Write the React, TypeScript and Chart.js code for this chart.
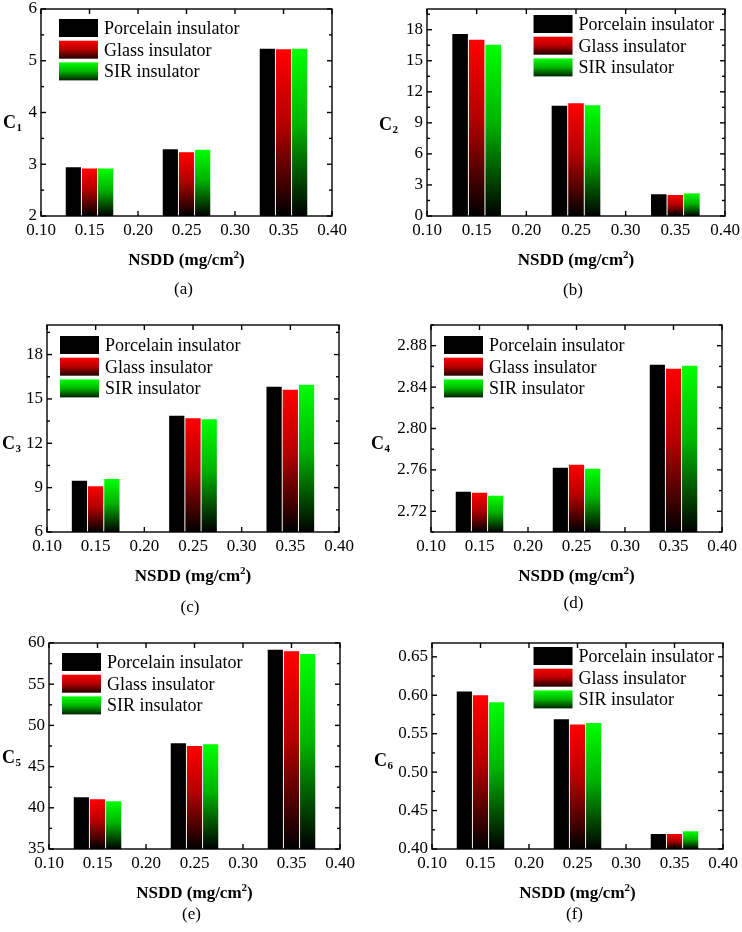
import React, { useEffect, useRef } from "react";
import { Chart, registerables } from "chart.js";

Chart.register(...registerables);

const SERIF = "'Liberation Serif', 'Times New Roman', serif";
Chart.defaults.font.family = SERIF;
Chart.defaults.color = "#000";

// ---------- data ----------
const NSDD = [0.15, 0.25, 0.35];
const X_TICKS = [0.1, 0.15, 0.2, 0.25, 0.3, 0.35, 0.4];
const SERIES_NAMES = ["Porcelain insulator", "Glass insulator", "SIR insulator"];
const SERIES_COLORS = ["#000000", "#ff0000", "#00ff00"];
const SERIES_MID = ["#000000", "#b40000", "#00b400"];

const C1_PORCELAIN = [2.94, 3.29, 5.23];
const C1_GLASS = [2.92, 3.23, 5.22];
const C1_SIR = [2.92, 3.28, 5.23];
const C1_TICKS = [2, 3, 4, 5, 6];

const C2_PORCELAIN = [17.58, 10.65, 2.1];
const C2_GLASS = [17.03, 10.9, 2.03];
const C2_SIR = [16.55, 10.7, 2.19];
const C2_TICKS = [0, 3, 6, 9, 12, 15, 18];

const C3_PORCELAIN = [9.46, 13.86, 15.83];
const C3_GLASS = [9.1, 13.7, 15.62];
const C3_SIR = [9.58, 13.63, 15.96];
const C3_TICKS = [6, 9, 12, 15, 18];

const C4_PORCELAIN = [2.739, 2.762, 2.8616];
const C4_GLASS = [2.738, 2.765, 2.8577];
const C4_SIR = [2.735, 2.761, 2.8606];
const C4_TICKS = [2.72, 2.76, 2.8, 2.84, 2.88];

const C5_PORCELAIN = [41.29, 47.82, 59.19];
const C5_GLASS = [41.05, 47.5, 58.99];
const C5_SIR = [40.8, 47.7, 58.67];
const C5_TICKS = [35, 40, 45, 50, 55, 60];

const C6_PORCELAIN = [0.605, 0.5687, 0.4196];
const C6_GLASS = [0.6, 0.562, 0.4196];
const C6_SIR = [0.591, 0.564, 0.423];
const C6_TICKS = [0.4, 0.45, 0.5, 0.55, 0.6, 0.65];

type Panel = {
  key: string;
  caption: string;
  sub: string;
  porcelain: number[];
  glass: number[];
  sir: number[];
  yMin: number;
  yMax: number;
  yTicks: number[];
  decimals: number;
  left: number;
  top: number;
  width: number;
  height: number;
  area: { l: number; t: number; r: number; b: number };
  legend: { align: "left" | "right"; dx: number; dy: number };
  yTitle: { x: number; dy: number };
  captionDy: number;
};

const PANELS: Panel[] = [
  {
    key: "a", caption: "(a)", sub: "1",
    porcelain: C1_PORCELAIN, glass: C1_GLASS, sir: C1_SIR,
    yMin: 2, yMax: 6, yTicks: C1_TICKS, decimals: 0,
    left: 0, top: 0, width: 371, height: 310,
    area: { l: 41, t: 9, r: 332, b: 216 },
    legend: { align: "left", dx: 18, dy: 10 },
    yTitle: { x: 3, dy: 15 }, captionDy: 78,
  },
  {
    key: "b", caption: "(b)", sub: "2",
    porcelain: C2_PORCELAIN, glass: C2_GLASS, sir: C2_SIR,
    yMin: 0, yMax: 20, yTicks: C2_TICKS, decimals: 0,
    left: 371, top: 0, width: 371, height: 310,
    area: { l: 56, t: 9, r: 354, b: 216 },
    legend: { align: "right", dx: 11, dy: 6 },
    yTitle: { x: 8, dy: 17 }, captionDy: 79,
  },
  {
    key: "c", caption: "(c)", sub: "3",
    porcelain: C3_PORCELAIN, glass: C3_GLASS, sir: C3_SIR,
    yMin: 6, yMax: 20, yTicks: C3_TICKS, decimals: 0,
    left: 0, top: 310, width: 371, height: 310,
    area: { l: 47, t: 15, r: 339, b: 222 },
    legend: { align: "left", dx: 13, dy: 11 },
    yTitle: { x: 2, dy: 20 }, captionDy: 80,
  },
  {
    key: "d", caption: "(d)", sub: "4",
    porcelain: C4_PORCELAIN, glass: C4_GLASS, sir: C4_SIR,
    yMin: 2.7, yMax: 2.9, yTicks: C4_TICKS, decimals: 2,
    left: 371, top: 310, width: 371, height: 310,
    area: { l: 60, t: 15, r: 351, b: 222 },
    legend: { align: "left", dx: 13, dy: 11 },
    yTitle: { x: 0, dy: 20 }, captionDy: 76,
  },
  {
    key: "e", caption: "(e)", sub: "5",
    porcelain: C5_PORCELAIN, glass: C5_GLASS, sir: C5_SIR,
    yMin: 35, yMax: 60, yTicks: C5_TICKS, decimals: 0,
    left: 0, top: 620, width: 371, height: 312,
    area: { l: 49, t: 23, r: 340, b: 229 },
    legend: { align: "left", dx: 13, dy: 10 },
    yTitle: { x: 2, dy: 17 }, captionDy: 70,
  },
  {
    key: "f", caption: "(f)", sub: "6",
    porcelain: C6_PORCELAIN, glass: C6_GLASS, sir: C6_SIR,
    yMin: 0.4, yMax: 0.668, yTicks: C6_TICKS, decimals: 2,
    left: 371, top: 620, width: 371, height: 312,
    area: { l: 61, t: 23, r: 352, b: 229 },
    legend: { align: "right", dx: 9, dy: 4 },
    yTitle: { x: 3, dy: 20 }, captionDy: 70,
  },
];

function makeGradient(c2d: CanvasRenderingContext2D, i: number, top: number, bottom: number) {
  const g = c2d.createLinearGradient(0, top, 0, bottom);
  g.addColorStop(0, SERIES_COLORS[i]);
  g.addColorStop(0.45, SERIES_MID[i]);
  g.addColorStop(1, "#000000");
  return g;
}

function barFill(i: number) {
  return (ctx: any) => {
    const color = SERIES_COLORS[i];
    if (i === 0) return color;
    const chart = ctx.chart;
    const area = chart.chartArea;
    if (!area || ctx.type !== "data" || !ctx.parsed) return color;
    const top = chart.scales.y.getPixelForValue(ctx.parsed.y);
    const bottom = area.bottom;
    if (!isFinite(top) || bottom - top < 1) return color;
    return makeGradient(chart.ctx, i, top, bottom);
  };
}

function decor(p: Panel) {
  return {
    id: "decor_" + p.key,
    afterDraw(chart: any) {
      const { ctx, chartArea: a, scales } = chart;
      const xs = scales.x;
      const ys = scales.y;
      ctx.save();
      ctx.strokeStyle = "#000";
      ctx.lineWidth = 1.4;
      const line = (x1: number, y1: number, x2: number, y2: number) => {
        ctx.beginPath();
        ctx.moveTo(x1, y1);
        ctx.lineTo(x2, y2);
        ctx.stroke();
      };
      // y ticks (major + minor), both sides, inward
      const yv: number[] = ys.ticks.map((t: any) => t.value);
      const step = yv[1] - yv[0];
      for (const v of yv) {
        const y = ys.getPixelForValue(v);
        line(a.left, y, a.left + 5, y);
        line(a.right - 5, y, a.right, y);
      }
      for (let v = yv[0] - step / 2; v <= ys.max + 1e-9; v += step) {
        if (v < ys.min - 1e-9) continue;
        const y = ys.getPixelForValue(v);
        line(a.left, y, a.left + 3, y);
        line(a.right - 3, y, a.right, y);
      }
      // x ticks, bottom + top, inward
      for (const t of xs.ticks) {
        const x = xs.getPixelForValue(t.value);
        line(x, a.bottom, x, a.bottom - 5);
        line(x, a.top, x, a.top + 5);
      }
      // frame
      ctx.strokeRect(a.left, a.top, a.right - a.left, a.bottom - a.top);

      // legend
      ctx.font = `18px ${SERIF}`;
      const boxW = 39;
      const boxH = 18;
      const gap = 6;
      const pitch = 21.7;
      const maxText = Math.max(...SERIES_NAMES.map((s) => ctx.measureText(s).width));
      const boxX =
        p.legend.align === "left"
          ? a.left + p.legend.dx
          : a.right - p.legend.dx - maxText - gap - boxW;
      SERIES_NAMES.forEach((name, i) => {
        const top = a.top + p.legend.dy + i * pitch;
        if (i === 0) {
          ctx.fillStyle = SERIES_COLORS[0];
        } else {
          const g = ctx.createLinearGradient(0, top, 0, top + boxH);
          g.addColorStop(0, SERIES_COLORS[i]);
          g.addColorStop(0.5, SERIES_MID[i]);
          g.addColorStop(1, i === 1 ? "#200000" : "#002000");
          ctx.fillStyle = g;
        }
        ctx.fillRect(boxX, top, boxW, boxH);
        ctx.fillStyle = "#000";
        ctx.textAlign = "left";
        ctx.textBaseline = "alphabetic";
        ctx.fillText(name, boxX + boxW + gap, top + boxH / 2 + 6);
      });

      // y title: C with subscript
      const cy = (a.top + a.bottom) / 2 + p.yTitle.dy;
      ctx.fillStyle = "#000";
      ctx.textAlign = "left";
      ctx.textBaseline = "alphabetic";
      ctx.font = `bold 18px ${SERIF}`;
      ctx.fillText("C", p.yTitle.x, cy);
      const cw = ctx.measureText("C").width;
      ctx.font = `bold 11px ${SERIF}`;
      ctx.fillText(p.sub, p.yTitle.x + cw + 0.5, cy + 3);

      // x title: NSDD (mg/cm²)
      const mainFont = `bold 17px ${SERIF}`;
      const supFont = `bold 11px ${SERIF}`;
      ctx.font = mainFont;
      const w1 = ctx.measureText("NSDD (mg/cm").width;
      const w3 = ctx.measureText(")").width;
      ctx.font = supFont;
      const w2 = ctx.measureText("2").width;
      const total = w1 + w2 + w3;
      const cx = (a.left + a.right) / 2;
      const xb = a.bottom + 49;
      const x0 = cx - total / 2;
      ctx.font = mainFont;
      ctx.fillText("NSDD (mg/cm", x0, xb);
      ctx.font = supFont;
      ctx.fillText("2", x0 + w1, xb - 7);
      ctx.font = mainFont;
      ctx.fillText(")", x0 + w1 + w2, xb);

      // caption
      ctx.font = `17px ${SERIF}`;
      ctx.textAlign = "center";
      ctx.fillText(p.caption, cx - 3, a.bottom + p.captionDy);
      ctx.restore();
    },
  };
}

function ChartPanel({ p }: { p: Panel }) {
  const ref = useRef<HTMLCanvasElement | null>(null);
  useEffect(() => {
    const canvas = ref.current;
    if (!canvas) return;
    const series = [p.porcelain, p.glass, p.sir];
    const datasets = series.map((vals, i) => ({
      label: SERIES_NAMES[i],
      data: NSDD.map((x, j) => ({ x, y: vals[j] })),
      backgroundColor: barFill(i),
      borderWidth: 0,
      categoryPercentage: 1,
      barPercentage: 0.94,
    }));
    const chart = new Chart(canvas, {
      type: "bar",
      data: { datasets } as any,
      options: {
        animation: false,
        responsive: false,
        devicePixelRatio: 1,
        events: [],
        layout: {
          padding: { left: 0, top: p.area.t, right: p.width - p.area.r, bottom: 0 },
        },
        plugins: {
          legend: { display: false },
          tooltip: { enabled: false },
          title: { display: false },
        },
        scales: {
          x: {
            type: "linear",
            min: 0.1,
            max: 0.4,
            offset: false,
            afterBuildTicks: (s: any) => {
              s.ticks = X_TICKS.map((v) => ({ value: v }));
            },
            afterFit: (s: any) => {
              s.height = p.height - p.area.b;
              s.paddingLeft = 0;
              s.paddingRight = 0;
            },
            ticks: {
              callback: (v: any) => Number(v).toFixed(2),
              font: { size: 17 },
              color: "#000",
              padding: 4,
              maxRotation: 0,
              autoSkip: false,
            },
            grid: { display: false, drawTicks: false },
            border: { display: false },
          },
          y: {
            type: "linear",
            min: p.yMin,
            max: p.yMax,
            beginAtZero: false,
            afterBuildTicks: (s: any) => {
              s.ticks = p.yTicks.map((v) => ({ value: v }));
            },
            afterFit: (s: any) => {
              s.width = p.area.l;
              s.paddingTop = 0;
              s.paddingBottom = 0;
            },
            ticks: {
              callback: (v: any) => Number(v).toFixed(p.decimals),
              font: { size: 17 },
              color: "#000",
              padding: 4,
              autoSkip: false,
            },
            grid: { display: false, drawTicks: false },
            border: { display: false },
          },
        },
      } as any,
      plugins: [decor(p)],
    });
    return () => chart.destroy();
  }, [p]);
  return (
    <canvas
      ref={ref}
      width={p.width}
      height={p.height}
      style={{ position: "absolute", left: p.left, top: p.top, width: p.width, height: p.height }}
    />
  );
}

export default function App() {
  return (
    <div
      style={{
        position: "absolute",
        left: 0,
        top: 0,
        width: 742,
        height: 932,
        background: "#fff",
        overflow: "hidden",
      }}
    >
      {PANELS.map((p) => (
        <ChartPanel key={p.key} p={p} />
      ))}
    </div>
  );
}
